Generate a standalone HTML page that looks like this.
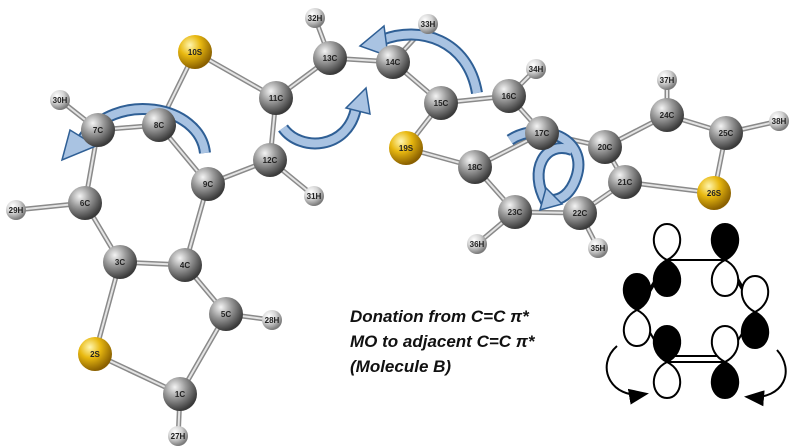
<!DOCTYPE html>
<html><head><meta charset="utf-8"><style>
body{margin:0;background:#fff;width:800px;height:446px;overflow:hidden}
svg{display:block}
.l{font-family:"Liberation Sans",sans-serif;font-size:8px;font-weight:bold;fill:#222;text-anchor:middle}
.t{font-family:"Liberation Sans",sans-serif;font-size:17px;font-weight:bold;font-style:italic;fill:#111}
</style></head><body>
<svg width="800" height="446" viewBox="0 0 800 446">
<defs>
<radialGradient id="gc" cx="35%" cy="30%" r="70%"><stop offset="0" stop-color="#f4f4f4"/><stop offset="0.45" stop-color="#9a9a9a"/><stop offset="1" stop-color="#3a3a3a"/></radialGradient>
<radialGradient id="gs" cx="35%" cy="30%" r="70%"><stop offset="0" stop-color="#fff6b0"/><stop offset="0.45" stop-color="#e8b810"/><stop offset="1" stop-color="#8a6000"/></radialGradient>
<radialGradient id="gh" cx="35%" cy="30%" r="70%"><stop offset="0" stop-color="#ffffff"/><stop offset="0.5" stop-color="#d4d4d4"/><stop offset="1" stop-color="#7a7a7a"/></radialGradient>
<path id="lw" d="M0,0 C-20,-10 -15,-36 0,-36 C15,-36 20,-10 0,0 Z" fill="#fff" stroke="#000" stroke-width="2"/>
<path id="lb" d="M0,0 C-20,-10 -15,-36 0,-36 C15,-36 20,-10 0,0 Z" fill="#000" stroke="#000" stroke-width="2"/>
<marker id="ah" markerWidth="10" markerHeight="8" refX="8" refY="4" orient="auto"><path d="M0,0 L10,4 L0,8 Z" fill="#000"/></marker>
<g id="bonds">
<line x1="195" y1="52" x2="276" y2="98"/><line x1="195" y1="52" x2="159" y2="125"/>
<line x1="276" y1="98" x2="330" y2="58"/><line x1="276" y1="98" x2="270" y2="160"/>
<line x1="270" y1="160" x2="208" y2="184"/><line x1="270" y1="160" x2="314" y2="196"/>
<line x1="330" y1="58" x2="315" y2="18"/><line x1="330" y1="58" x2="393" y2="62"/>
<line x1="393" y1="62" x2="428" y2="24"/><line x1="393" y1="62" x2="441" y2="103"/>
<line x1="441" y1="103" x2="509" y2="96"/><line x1="441" y1="103" x2="406" y2="148"/>
<line x1="509" y1="96" x2="536" y2="69"/><line x1="509" y1="96" x2="542" y2="133"/>
<line x1="542" y1="133" x2="475" y2="167"/><line x1="542" y1="133" x2="605" y2="147"/>
<line x1="475" y1="167" x2="406" y2="148"/><line x1="475" y1="167" x2="515" y2="212"/>
<line x1="515" y1="212" x2="580" y2="213"/><line x1="515" y1="212" x2="477" y2="244"/>
<line x1="580" y1="213" x2="625" y2="182"/><line x1="580" y1="213" x2="598" y2="248"/>
<line x1="625" y1="182" x2="605" y2="147"/><line x1="625" y1="182" x2="714" y2="193"/>
<line x1="605" y1="147" x2="667" y2="115"/><line x1="667" y1="115" x2="667" y2="80"/>
<line x1="667" y1="115" x2="726" y2="133"/><line x1="726" y1="133" x2="779" y2="121"/>
<line x1="726" y1="133" x2="714" y2="193"/>
<line x1="159" y1="125" x2="98" y2="130"/><line x1="159" y1="125" x2="208" y2="184"/>
<line x1="98" y1="130" x2="60" y2="100"/><line x1="98" y1="130" x2="85" y2="203"/>
<line x1="85" y1="203" x2="16" y2="210"/><line x1="85" y1="203" x2="120" y2="262"/>
<line x1="120" y1="262" x2="185" y2="265"/><line x1="185" y1="265" x2="208" y2="184"/>
<line x1="185" y1="265" x2="226" y2="314"/><line x1="226" y1="314" x2="272" y2="320"/>
<line x1="226" y1="314" x2="180" y2="394"/><line x1="180" y1="394" x2="178" y2="440"/>
<line x1="180" y1="394" x2="95" y2="354"/><line x1="95" y1="354" x2="120" y2="262"/>
</g>
</defs>
<use href="#bonds" stroke="#8a8a8a" stroke-width="5" stroke-linecap="round"/>
<use href="#bonds" stroke="#e4e4e4" stroke-width="2" stroke-linecap="round"/>
<g fill="none" stroke-linecap="butt">
<g stroke="#2f5f95" stroke-width="12">
<path d="M205,153 C200,105 115,90 82,140"/>
<path d="M283,128 C300,152 348,150 356,108"/>
<path d="M477,93 C468,40 420,25 382,40"/>
<path d="M510,140 C540,120 590,138 576,178 C570,195 560,200 552,200"/>
<path d="M546,202 C528,170 545,140 572,150"/>
</g>
<g stroke="#a9c3e2" stroke-width="8">
<path d="M205,153 C200,105 115,90 82,140"/>
<path d="M283,128 C300,152 348,150 356,108"/>
<path d="M477,93 C468,40 420,25 382,40"/>
<path d="M510,140 C540,120 590,138 576,178 C570,195 560,200 552,200"/>
<path d="M546,202 C528,170 545,140 572,150"/>
</g>
</g>
<g fill="#a9c3e2" stroke="#2f5f95" stroke-width="1.5">
<polygon points="62,160 70,130 96,146"/>
<polygon points="366,88 346,108 370,114"/>
<polygon points="360,46 384,26 388,56"/>
<polygon points="540,210 546,188 562,204"/>
</g>
<g>
<circle cx="315" cy="18" r="10" fill="url(#gh)"/><circle cx="428" cy="24" r="10" fill="url(#gh)"/>
<circle cx="536" cy="69" r="10" fill="url(#gh)"/><circle cx="667" cy="80" r="10" fill="url(#gh)"/>
<circle cx="779" cy="121" r="10" fill="url(#gh)"/><circle cx="60" cy="100" r="10" fill="url(#gh)"/>
<circle cx="314" cy="196" r="10" fill="url(#gh)"/><circle cx="16" cy="210" r="10" fill="url(#gh)"/>
<circle cx="477" cy="244" r="10" fill="url(#gh)"/><circle cx="598" cy="248" r="10" fill="url(#gh)"/>
<circle cx="272" cy="320" r="10" fill="url(#gh)"/><circle cx="178" cy="436" r="10" fill="url(#gh)"/>
<circle cx="195" cy="52" r="17" fill="url(#gs)"/><circle cx="406" cy="148" r="17" fill="url(#gs)"/>
<circle cx="714" cy="193" r="17" fill="url(#gs)"/><circle cx="95" cy="354" r="17" fill="url(#gs)"/>
<circle cx="330" cy="58" r="17" fill="url(#gc)"/><circle cx="393" cy="62" r="17" fill="url(#gc)"/>
<circle cx="276" cy="98" r="17" fill="url(#gc)"/><circle cx="441" cy="103" r="17" fill="url(#gc)"/>
<circle cx="509" cy="96" r="17" fill="url(#gc)"/><circle cx="667" cy="115" r="17" fill="url(#gc)"/>
<circle cx="726" cy="133" r="17" fill="url(#gc)"/><circle cx="159" cy="125" r="17" fill="url(#gc)"/>
<circle cx="98" cy="130" r="17" fill="url(#gc)"/><circle cx="270" cy="160" r="17" fill="url(#gc)"/>
<circle cx="542" cy="133" r="17" fill="url(#gc)"/><circle cx="605" cy="147" r="17" fill="url(#gc)"/>
<circle cx="208" cy="184" r="17" fill="url(#gc)"/><circle cx="85" cy="203" r="17" fill="url(#gc)"/>
<circle cx="475" cy="167" r="17" fill="url(#gc)"/><circle cx="625" cy="182" r="17" fill="url(#gc)"/>
<circle cx="515" cy="212" r="17" fill="url(#gc)"/><circle cx="580" cy="213" r="17" fill="url(#gc)"/>
<circle cx="120" cy="262" r="17" fill="url(#gc)"/><circle cx="185" cy="265" r="17" fill="url(#gc)"/>
<circle cx="226" cy="314" r="17" fill="url(#gc)"/><circle cx="180" cy="394" r="17" fill="url(#gc)"/>
</g>
<g class="l">
<text x="315" y="21">32H</text><text x="428" y="27">33H</text><text x="536" y="72">34H</text>
<text x="667" y="83">37H</text><text x="779" y="124">38H</text><text x="60" y="103">30H</text>
<text x="314" y="199">31H</text><text x="16" y="213">29H</text><text x="477" y="247">36H</text>
<text x="598" y="251">35H</text><text x="272" y="323">28H</text><text x="178" y="439">27H</text>
<text x="195" y="55">10S</text><text x="406" y="151">19S</text><text x="714" y="196">26S</text><text x="95" y="357">2S</text>
<text x="330" y="61">13C</text><text x="393" y="65">14C</text><text x="276" y="101">11C</text>
<text x="441" y="106">15C</text><text x="509" y="99">16C</text><text x="667" y="118">24C</text>
<text x="726" y="136">25C</text><text x="159" y="128">8C</text><text x="98" y="133">7C</text>
<text x="270" y="163">12C</text><text x="542" y="136">17C</text><text x="605" y="150">20C</text>
<text x="208" y="187">9C</text><text x="85" y="206">6C</text><text x="475" y="170">18C</text>
<text x="625" y="185">21C</text><text x="515" y="215">23C</text><text x="580" y="216">22C</text>
<text x="120" y="265">3C</text><text x="185" y="268">4C</text><text x="226" y="317">5C</text><text x="180" y="397">1C</text>
</g>
<text class="t" x="350" y="322">Donation from C=C π*</text>
<text class="t" x="350" y="347">MO to adjacent C=C π*</text>
<text class="t" x="350" y="372">(Molecule B)</text>
<g stroke="#000" stroke-width="2" fill="none">
<line x1="667" y1="260" x2="725" y2="260"/>
<line x1="667" y1="260" x2="637" y2="310"/><line x1="663" y1="270" x2="642" y2="305"/>
<line x1="725" y1="260" x2="755" y2="312"/><line x1="732" y1="268" x2="750" y2="300"/>
<line x1="637" y1="310" x2="667" y2="362"/><line x1="755" y1="312" x2="725" y2="362"/>
<line x1="667" y1="356" x2="725" y2="356"/><line x1="667" y1="362" x2="725" y2="362"/>
</g>
<use href="#lw" x="667" y="260"/><use href="#lb" x="667" y="260" transform="rotate(180 667 260)"/>
<use href="#lb" x="725" y="260"/><use href="#lw" x="725" y="260" transform="rotate(180 725 260)"/>
<use href="#lb" x="637" y="310"/><use href="#lw" x="637" y="310" transform="rotate(180 637 310)"/>
<use href="#lw" x="755" y="312"/><use href="#lb" x="755" y="312" transform="rotate(180 755 312)"/>
<use href="#lb" x="667" y="362"/><use href="#lw" x="667" y="362" transform="rotate(180 667 362)"/>
<use href="#lw" x="725" y="362"/><use href="#lb" x="725" y="362" transform="rotate(180 725 362)"/>
<path d="M617,346 C595,365 610,400 645,394" stroke="#000" stroke-width="2" fill="none" marker-end="url(#ah)"/>
<path d="M777,350 C795,370 785,400 748,397" stroke="#000" stroke-width="2" fill="none" marker-end="url(#ah)"/>
</svg>
</body></html>
